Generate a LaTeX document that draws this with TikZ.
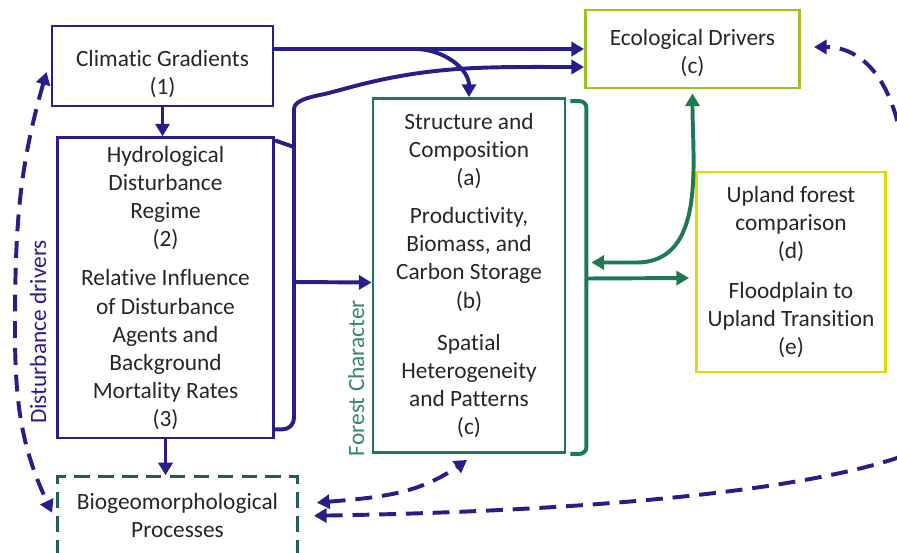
\documentclass[tikz,border=0pt]{standalone}
\usepackage{fontspec}
\setmainfont{Carlito}[Ligatures=NoCommon]
\usetikzlibrary{arrows.meta,positioning,calc}

\definecolor{navy}{RGB}{40,30,135}
\definecolor{forestgreen}{RGB}{31,122,84}
\definecolor{bioteal}{RGB}{31,92,92}
\definecolor{ecolime}{RGB}{153,196,33}
\definecolor{uplandyellow}{RGB}{221,221,0}
\definecolor{textgray}{RGB}{38,38,38}

\begin{document}
\begin{tikzpicture}[x=0.025cm,y=0.025cm,>={Triangle[length=9pt,width=10pt]},
        every node/.style={font=\fontsize{16.6}{20}\selectfont,text=textgray},
        boxnode/.style={draw,line width=2pt,align=center,inner sep=2pt},
        bluebox/.style={boxnode,draw=navy},
        bus/.style={draw=navy,line width=2.8pt},
        greenline/.style={draw=forestgreen,line width=2.8pt},
        dashline/.style={draw=navy,line width=2.8pt,dash pattern=on 12pt off 7pt}]
    \useasboundingbox (0,0) rectangle (897,-553);

    % boxes
    \node[bluebox, minimum width=5.525cm, minimum height=2cm] (clim) at (162.5,-66)
        {\rule{0pt}{23pt}Climatic Gradients\\(1)};
    \node[bluebox, minimum width=5.4cm, minimum height=7.5cm] (hydro) [below=0.725cm of clim, xshift=0.075cm]
        {Hydrological\\Disturbance\\Regime\\(2)\\[8pt]Relative Influence\\of Disturbance\\Agents and\\Background\\Mortality Rates\\(3)};
    \node[boxnode, draw=bioteal, dash pattern=on 11pt off 6pt, minimum width=6cm, minimum height=1.95cm] (bio)
        [below=0.9cm of hydro, xshift=0.3cm] {Biogeomorphological\\Processes};
    \node[boxnode, draw=forestgreen, minimum width=4.8cm, minimum height=8.85cm] (forest) at (469,-275.5)
        {Structure and\\Composition\\(a)\\[7pt]Productivity,\\Biomass, and\\Carbon Storage\\(b)\\[10pt]Spatial\\Heterogeneity\\and Patterns\\(c)};
    \node[boxnode, draw=ecolime, minimum width=5.35cm, minimum height=1.95cm] (eco) at (692.5,-49)
        {\rule{0pt}{17.5pt}Ecological Drivers\\(c)};
    \node[boxnode, draw=uplandyellow, minimum width=4.725cm, minimum height=5cm] (upland) at (791,-272)
        {Upland forest\\comparison\\(d)\\[8pt]Floodplain to\\Upland Transition\\(e)};

    \node[rotate=90, text=forestgreen!90!white] (fclabel) at (356,-378) {Forest Character};
    \node[rotate=90, text=navy] (ddlabel) at (38,-332) {Disturbance drivers};

    % solid blue links
    \coordinate (split) at (415,-49);
    \coordinate (busTop) at (294,-120);
    \coordinate (busMid) at (294,-282);
    \draw[bus,->] (clim.south) -- (clim.south |- hydro.north);
    \draw[bus,->] (hydro.south) -- (hydro.south |- bio.north);
    \draw[bus,->] (clim.east |- eco.west) -- (eco.west);
    \draw[bus,->] (split) to[out=0,in=90] (forest.north);
    \draw[bus] ($(hydro.north east)+(0,-4)$) -- (294,-147);
    \draw[bus,->,rounded corners=8pt] ($(hydro.south east)+(0,10)$) -| (busTop)
        to[out=90,in=195] (340,-90) to[out=15,in=180] ($(eco.west)+(0,-18)$);
    \draw[bus,->] (busMid) -- ($(forest.west)+(0,-7)$);

    % green links
    \coordinate (brk) at ($(forest.east)+(20,-3)$);
    \draw[greenline, rounded corners=5pt] ($(forest.north east)+(4,-4)$) -| ($(forest.south east)+(20,0)$)
        -- ($(forest.south east)+(4,0)$);
    \draw[greenline,->] (brk) -- ($(upland.west)+(-6,-6)$);
    \draw[greenline,<->] ($(forest.east)+(25,13)$) -- ++(45,0) to[out=0,in=-90] ($(eco.south)+(0,-4)$);

    % dashed feedbacks
    \coordinate (ddLeft) at (15,-330);
    \coordinate (loopLow) at (897,-458);
    \coordinate (loopHigh) at (897,-120);
    \draw[dashline,<->] ($(clim.west)+(-4,-6)$) to[out=-106,in=90] (ddLeft)
        to[out=-90,in=115] ($(bio.west)+(-4,3)$);
    \draw[dashline,<->] ($(bio.east)+(18,13)$) to[out=5,in=-145] ($(forest.south)+(-2,-6)$);
    \draw[dashline,<->] ($(bio.east)+(15,0)$) .. controls (600,-511) and (800,-490) .. (loopLow)
        .. controls (990,-427) and (915,-187) .. (loopHigh)
        .. controls (885,-75) and (860,-47) .. ($(eco.east)+(13,2)$);
\end{tikzpicture}
\end{document}
